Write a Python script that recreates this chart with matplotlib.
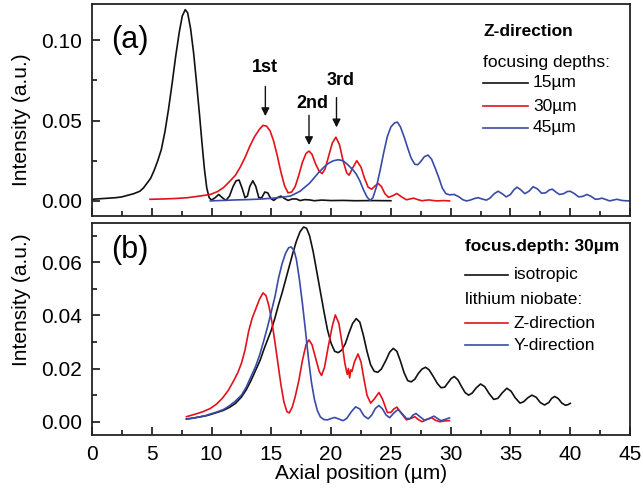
import matplotlib
matplotlib.use("Agg")
import matplotlib.pyplot as plt
from matplotlib.ticker import MultipleLocator, FormatStrFormatter

plt.rcParams['font.family'] = ['Liberation Sans', 'DejaVu Sans']

# ---------------- data ----------------
# Panel (a): Z-direction, focusing depths 15, 30, 45 um
a15_x = [0, 1, 2, 2.5, 3, 3.5, 4, 4.3, 4.6, 4.9, 5.2, 5.5, 5.8, 6.1, 6.4, 6.7, 7.0, 7.3,
         7.55, 7.8, 8.0, 8.25, 8.5, 8.75, 9.0, 9.2, 9.4, 9.6, 9.8, 10.0, 10.3, 10.6, 10.9,
         11.2, 11.5, 11.8, 12.05, 12.3, 12.55, 12.8, 13.0, 13.2, 13.45, 13.7, 13.95, 14.2,
         14.45, 14.7, 14.95, 15.2, 15.5, 15.8, 16.1, 16.4, 16.75, 17.1, 17.4, 17.8, 18.2,
         18.6, 19.2, 20, 21, 22, 23.5, 25]
a15_y = [0.001, 0.0015, 0.002, 0.0025, 0.0035, 0.0045, 0.006, 0.008, 0.011, 0.014, 0.019,
         0.025, 0.032, 0.043, 0.057, 0.073, 0.090, 0.105, 0.115, 0.119, 0.117, 0.107, 0.092,
         0.073, 0.053, 0.036, 0.020, 0.008, 0.002, 0.0005, 0.002, 0.004, 0.002, 0.0003,
         0.003, 0.009, 0.0125, 0.013, 0.008, 0.002, 0.003, 0.009, 0.0125, 0.009, 0.002,
         0.002, 0.0055, 0.005, 0.0015, 0.0003, 0.002, 0.003, 0.0015, 0.0003, 0.0012, 0.0012,
         0.0002, 0.0008, 0.0006, 0.0001, 0.0005, 0.0002, 0.0003, 0.0001, 0.0002, 0.0001]

a30_x = [4.85, 6, 7, 8, 9, 9.9, 10.5, 11.0, 11.5, 12.0, 12.4, 12.8, 13.2, 13.6, 14.0, 14.3,
         14.6, 14.9, 15.2, 15.5, 15.8, 16.1, 16.4, 16.7, 17.0, 17.3, 17.6, 17.9, 18.15, 18.4,
         18.7, 19.0, 19.25, 19.5, 19.8, 20.1, 20.4, 20.7, 21.0, 21.3, 21.5, 21.8, 22.15,
         22.5, 22.8, 23.1, 23.4, 23.7, 23.95, 24.2, 24.5, 24.8, 25.15, 25.5, 25.9, 26.3,
         26.6, 26.9, 27.25, 27.6, 27.9, 28.2, 28.55, 28.9, 29.4, 29.9]
a30_y = [0.001, 0.0012, 0.0015, 0.002, 0.003, 0.004, 0.0058, 0.0083, 0.012, 0.016, 0.021,
         0.027, 0.034, 0.040, 0.0445, 0.047, 0.0465, 0.0435, 0.037, 0.028, 0.018, 0.0095,
         0.005, 0.0055, 0.009, 0.016, 0.024, 0.0295, 0.031, 0.029, 0.023, 0.0185, 0.017,
         0.020, 0.028, 0.036, 0.0396, 0.035, 0.025, 0.0175, 0.016, 0.0205, 0.025, 0.021,
         0.014, 0.0085, 0.0073, 0.0095, 0.0108, 0.009, 0.0045, 0.0022, 0.0032, 0.0046,
         0.0025, 0.0007, 0.0012, 0.0017, 0.0008, 0.0001, 0.0004, 0.0006, 0.0002, 0.0,
         0.0002, 0.0]

a45_x = [9.9, 11, 12, 13, 14, 15, 15.8, 16.6, 17.0, 17.4, 17.8, 18.2, 18.6, 19.0, 19.4,
         19.8, 20.2, 20.6, 21.0, 21.4, 21.8, 22.1, 22.4, 22.7, 23.0, 23.25, 23.5, 23.8,
         24.1, 24.4, 24.7, 25.0, 25.3, 25.55, 25.8, 26.1, 26.4, 26.7, 27.0, 27.25, 27.5,
         27.8, 28.1, 28.4, 28.7, 29.0, 29.3, 29.6, 29.9, 30.3, 30.7, 31.0, 31.3, 31.6, 32.0,
         32.3, 32.7, 33.0, 33.3, 33.65, 33.97, 34.3, 34.65, 35.0, 35.3, 35.55, 35.85, 36.2,
         36.55, 36.9, 37.25, 37.6, 37.95, 38.25, 38.5, 38.8, 39.1, 39.45, 39.75, 40.0,
         40.35, 40.7, 41.05, 41.4, 41.75, 42.1, 42.4, 42.65, 43.0, 43.3, 43.6, 43.9, 44.3,
         44.6, 45]
a45_y = [0.0, 0.0003, 0.0006, 0.0008, 0.0011, 0.0016, 0.0022, 0.003, 0.0045, 0.006, 0.0085,
         0.011, 0.0145, 0.018, 0.021, 0.0235, 0.025, 0.0256, 0.025, 0.0225, 0.0195, 0.0167,
         0.0125, 0.007, 0.0025, 0.0003, 0.002, 0.009, 0.019, 0.030, 0.040, 0.046, 0.0485,
         0.049, 0.046, 0.040, 0.033, 0.0265, 0.0228, 0.0225, 0.0245, 0.0275, 0.0285, 0.026,
         0.0205, 0.0146, 0.008, 0.0045, 0.0038, 0.004, 0.0025, 0.0008, 0.0, 0.0004, 0.0015,
         0.002, 0.001, 0.0005, 0.0018, 0.0045, 0.006, 0.0045, 0.0025, 0.004, 0.007, 0.0085,
         0.007, 0.0045, 0.006, 0.0088, 0.0075, 0.0048, 0.005, 0.0068, 0.0073, 0.0055, 0.004,
         0.0045, 0.0058, 0.006, 0.0045, 0.0025, 0.0028, 0.004, 0.0028, 0.001, 0.0012, 0.0017,
         0.0008, 0.0, 0.0005, 0.001, 0.0003, 0.0001, 0.0]

# Panel (b): focus depth 30 um
b_iso_x = [7.9, 8.5, 9.0, 9.5, 9.9, 10.4, 11.0, 11.5, 12.0, 12.5, 12.9, 13.3, 13.7, 14.05,
           14.4, 14.7, 15.0, 15.3, 15.6, 15.9, 16.2, 16.5, 16.8, 17.1, 17.4, 17.7, 17.95,
           18.2, 18.5, 18.8, 19.1, 19.4, 19.7, 20.0, 20.3, 20.6, 20.9, 21.2, 21.5, 21.8,
           22.1, 22.4, 22.7, 23.0, 23.3, 23.6, 23.9, 24.2, 24.55, 24.9, 25.2, 25.5, 25.8,
           26.1, 26.4, 26.7, 27.0, 27.3, 27.6, 27.9, 28.2, 28.55, 28.9, 29.2, 29.5, 29.8,
           30.05, 30.3, 30.6, 30.9, 31.2, 31.5, 31.8, 32.15, 32.5, 32.85, 33.2, 33.6, 33.95,
           34.3, 34.7, 35.05, 35.4, 35.8, 36.1, 36.45, 36.8, 37.15, 37.5, 37.85, 38.2, 38.45,
           38.7, 39.0, 39.3, 39.6, 39.8, 40.0]
b_iso_y = [0.001, 0.0014, 0.0018, 0.0022, 0.0027, 0.0034, 0.0043, 0.0054, 0.0069, 0.0093,
           0.012, 0.0155, 0.0195, 0.023, 0.0275, 0.031, 0.0345, 0.039, 0.044, 0.0485,
           0.0535, 0.0585, 0.0635, 0.068, 0.0715, 0.0733, 0.0728, 0.070, 0.064, 0.0565,
           0.049, 0.0415, 0.0345, 0.0295, 0.0265, 0.026, 0.027, 0.0295, 0.0335, 0.037,
           0.0388, 0.0375, 0.0325, 0.0265, 0.0215, 0.019, 0.0186, 0.0198, 0.0228, 0.0262,
           0.0276, 0.0265, 0.0228, 0.0185, 0.0155, 0.015, 0.016, 0.0182, 0.0198, 0.0205,
           0.0195, 0.017, 0.0143, 0.0128, 0.013, 0.0148, 0.0163, 0.017, 0.0158, 0.0133,
           0.011, 0.010, 0.0108, 0.0128, 0.0142, 0.0132, 0.0107, 0.0084, 0.0088, 0.0108,
           0.0126, 0.0115, 0.009, 0.007, 0.0075, 0.009, 0.010, 0.0092, 0.0072, 0.0063,
           0.0072, 0.0088, 0.0095, 0.0087, 0.007, 0.0062, 0.0064, 0.0069]

b_z_x = [7.9, 8.6, 9.3, 9.9, 10.4, 10.9, 11.4, 11.8, 12.2, 12.5, 12.8, 13.1, 13.4, 13.7,
         14.0, 14.3, 14.55, 14.8, 15.05, 15.3, 15.55, 15.8, 16.05, 16.3, 16.5, 16.75, 17.0,
         17.3, 17.6, 17.9, 18.15, 18.4, 18.7, 19.0, 19.2, 19.45, 19.75, 20.1, 20.35, 20.65,
         20.9, 21.15, 21.35, 21.45, 21.55, 21.65, 21.75, 21.95, 22.25, 22.5, 22.75, 23.0,
         23.3, 23.6, 24.0, 24.3, 24.7, 25.0, 25.25, 25.5, 25.9, 26.3, 26.65, 27.0, 27.3,
         27.6, 28.0, 28.4, 28.75, 29.1, 29.5, 29.9]
b_z_y = [0.0019, 0.0028, 0.0038, 0.0050, 0.0066, 0.0088, 0.0118, 0.015, 0.0185, 0.022,
         0.027, 0.034, 0.039, 0.0425, 0.046, 0.0485, 0.0475, 0.0435, 0.0375, 0.030, 0.022,
         0.014, 0.0075, 0.0038, 0.0033, 0.0055, 0.0095, 0.0155, 0.023, 0.029, 0.0308,
         0.029, 0.024, 0.019, 0.0174, 0.0205, 0.028, 0.036, 0.0402, 0.037, 0.030, 0.022,
         0.0178, 0.020, 0.0165, 0.0195, 0.019, 0.0225, 0.0255, 0.0225, 0.016, 0.010,
         0.007, 0.0085, 0.011, 0.0085, 0.0035, 0.0035, 0.0048, 0.0055, 0.003, 0.0007,
         0.0012, 0.0019, 0.0008, 0.0, 0.0008, 0.0015, 0.0005, 0.0, 0.0003, 0.0004]

b_y_x = [7.9, 8.5, 9.0, 9.5, 9.9, 10.4, 11.0, 11.5, 12.0, 12.5, 12.9, 13.3, 13.7, 14.05,
         14.4, 14.7, 15.0, 15.3, 15.6, 15.9, 16.2, 16.45, 16.65, 16.9, 17.1, 17.35, 17.6,
         17.85, 18.1, 18.35, 18.6, 18.85, 19.1, 19.4, 19.7, 20.0, 20.3, 20.65, 21.0, 21.3,
         21.7, 22.05, 22.4, 22.75, 23.1, 23.4, 23.7, 24.0, 24.3, 24.6, 24.9, 25.25, 25.6,
         25.95, 26.3, 26.6, 26.85, 27.1, 27.45, 27.8, 28.2, 28.6, 28.9, 29.2, 29.55, 29.9]
b_y_y = [0.001, 0.0014, 0.0018, 0.0023, 0.0029, 0.0036, 0.0046, 0.006, 0.0078, 0.010, 0.013,
         0.017, 0.021, 0.0255, 0.031, 0.036, 0.0415, 0.047, 0.054, 0.0595, 0.0635, 0.0655,
         0.0658, 0.0645, 0.061, 0.0535, 0.0445, 0.0345, 0.024, 0.015, 0.0085, 0.0042,
         0.0018, 0.0008, 0.0007, 0.0012, 0.0016, 0.001, 0.0004, 0.0012, 0.0038, 0.0056,
         0.0048, 0.0022, 0.0011, 0.0025, 0.005, 0.0061, 0.0048, 0.0025, 0.0015, 0.0033,
         0.0046, 0.003, 0.0012, 0.0012, 0.0025, 0.0031, 0.0018, 0.0006, 0.0012, 0.0021,
         0.0012, 0.0004, 0.0009, 0.0014]

RED = '#e2121b'
BLUE = '#3a4aa8'
BLACK = '#111111'

# ---------------- figure ----------------
W, H = 643, 491
fig = plt.figure(figsize=(W / 100, H / 100), dpi=100)
L, R = 92 / W, 630 / W
ax1 = fig.add_axes([L, 1 - 216 / H, R - L, (216 - 4) / H])
ax2 = fig.add_axes([L, 1 - 435 / H, R - L, (435 - 223) / H])

lw = 1.2
kw = dict(lw=lw, solid_joinstyle='round')
ax1.plot(a15_x, a15_y, color=BLACK, **kw)
ax1.plot(a30_x, a30_y, color=RED, **kw)
ax1.plot(a45_x, a45_y, color=BLUE, **kw)

ax2.plot(b_iso_x, b_iso_y, color=BLACK, **kw)
ax2.plot(b_z_x, b_z_y, color=RED, **kw)
ax2.plot(b_y_x, b_y_y, color=BLUE, **kw)

ax1.set_ylim(-0.0094, 0.1225)
ax2.set_ylim(-0.005, 0.0748)
for ax in (ax1, ax2):
    ax.set_xlim(0, 45)
    ax.xaxis.set_major_locator(MultipleLocator(5))
    ax.xaxis.set_minor_locator(MultipleLocator(2.5))
    ax.tick_params(which='both', direction='in', top=False, right=False,
                   labelsize=15, width=1.1, pad=7)
    ax.tick_params(which='major', length=6)
    ax.tick_params(which='minor', length=3.5)
    for s in ax.spines.values():
        s.set_linewidth(1.3)
        s.set_color('#222222')

ax1.yaxis.set_major_locator(MultipleLocator(0.05))
ax1.yaxis.set_minor_locator(MultipleLocator(0.025))
ax1.yaxis.set_major_formatter(FormatStrFormatter('%.2f'))
ax2.yaxis.set_major_locator(MultipleLocator(0.02))
ax2.yaxis.set_minor_locator(MultipleLocator(0.01))
ax2.yaxis.set_major_formatter(FormatStrFormatter('%.2f'))
ax1.tick_params(axis='x', labelbottom=False)

ax2.set_xlabel('Axial position (µm)', fontsize=15, labelpad=0)
fig.text(22 / W, 1 - 120 / H, 'Intensity (a.u.)', rotation=90, fontsize=15,
         ha='center', va='center')
fig.text(22 / W, 1 - 300 / H, 'Intensity (a.u.)', rotation=90, fontsize=15,
         ha='center', va='center')

# panel labels
ax1.text(1.6, 0.1, '(a)', fontsize=22, ha='left', va='center')
ax2.text(1.6, 0.0645, '(b)', fontsize=22, ha='left', va='center')

# arrows with peak labels
arr = dict(arrowstyle='-|>', color=BLACK, lw=1.0, mutation_scale=12)
ax1.annotate('', xy=(14.5, 0.051), xytext=(14.5, 0.073), arrowprops=arr)
ax1.text(14.5, 0.083, '1st', fontsize=13, fontweight='bold', ha='center', va='center')
ax1.annotate('', xy=(18.15, 0.033), xytext=(18.15, 0.055), arrowprops=arr)
ax1.text(18.4, 0.0606, '2nd', fontsize=13, fontweight='bold', ha='center', va='center')
ax1.annotate('', xy=(20.45, 0.044), xytext=(20.45, 0.066), arrowprops=arr)
ax1.text(20.8, 0.075, '3rd', fontsize=13, fontweight='bold', ha='center', va='center')

# custom legends (positions in pixels)
def fx(px):
    return px / W

def fy(py):
    return 1 - py / H

fig.text(fx(483), fy(32), 'Z-direction', fontsize=12.5, fontweight='bold', va='center')
fig.text(fx(483), fy(62), 'focusing depths:', fontsize=12.5, va='center')
for py, c, t in [(83, BLACK, '15µm'), (106, RED, '30µm'), (128, BLUE, '45µm')]:
    fig.add_artist(plt.Line2D([fx(483), fx(528)], [fy(py), fy(py)], color=c, lw=lw))
    fig.text(fx(533), fy(py), t, fontsize=12.5, va='center')

fig.text(fx(465), fy(247), 'focus.depth: 30µm', fontsize=12.5, fontweight='bold', va='center')
fig.add_artist(plt.Line2D([fx(465), fx(508)], [fy(275), fy(275)], color=BLACK, lw=lw))
fig.text(fx(514), fy(275), 'isotropic', fontsize=12.5, va='center')
fig.text(fx(465), fy(300), 'lithium niobate:', fontsize=12.5, va='center')
for py, c, t in [(323, RED, 'Z-direction'), (345, BLUE, 'Y-direction')]:
    fig.add_artist(plt.Line2D([fx(465), fx(508)], [fy(py), fy(py)], color=c, lw=lw))
    fig.text(fx(514), fy(py), t, fontsize=12.5, va='center')

fig.savefig('out.png', dpi=100)
